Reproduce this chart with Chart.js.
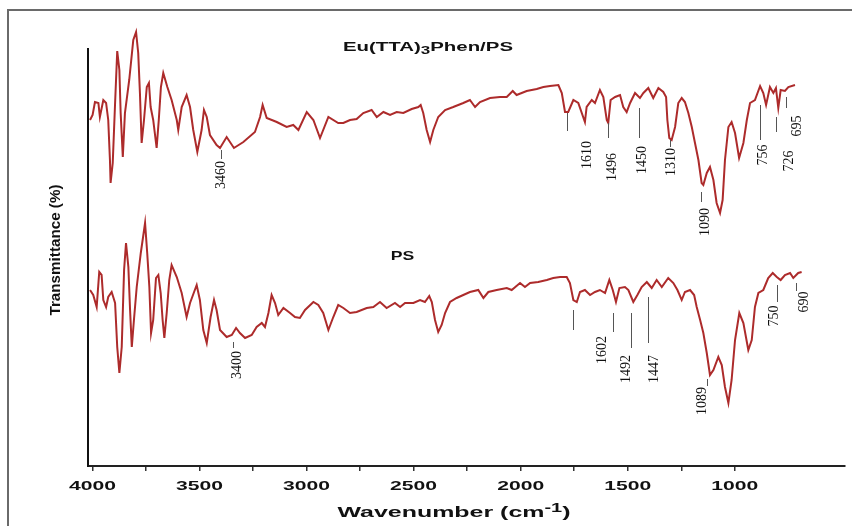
<!DOCTYPE html>
<html>
<head>
<meta charset="utf-8">
<script src="https://cdn.jsdelivr.net/npm/chart.js@4.4.1/dist/chart.umd.min.js"></script>
<style>
    html, body { margin: 0; padding: 0; background: #fff; }
    #wrap { position: relative; width: 852px; height: 526px; overflow: hidden; }
    #frame { position: absolute; left: 7px; top: 9px; width: 900px; height: 600px;
             border-left: 2px solid #6a6a6a; border-top: 2px solid #6a6a6a; }
    #ftir { position: absolute; left: 0; top: 0; }
</style>
</head>
<body>
<div id="wrap">
    <div id="frame"></div>
    <canvas id="ftir" width="852" height="526"></canvas>
</div>
<script>
// Eu(TTA)3Phen/PS spectrum: wavenumber (cm-1) and transmittance (arbitrary units, offset curve)
const euWave = [4011, 3999, 3988, 3972, 3965, 3949, 3936, 3926, 3918, 3915,
    3905, 3894, 3884, 3874, 3868, 3858, 3848, 3828, 3809, 3796,
    3786, 3778, 3770, 3759, 3746, 3736, 3728, 3716, 3700, 3690,
    3680, 3669, 3650, 3630, 3606, 3599, 3583, 3560, 3544, 3529,
    3510, 3490, 3479, 3466, 3451, 3420, 3404, 3373, 3339, 3295,
    3241, 3217, 3205, 3186, 3139, 3093, 3062, 3038, 2999, 2968,
    2937, 2898, 2852, 2828, 2797, 2766, 2735, 2696, 2672, 2641,
    2610, 2579, 2548, 2509, 2478, 2467, 2455, 2439, 2423, 2408,
    2385, 2353, 2315, 2268, 2237, 2213, 2190, 2143, 2097, 2065,
    2037, 2019, 1972, 1925, 1894, 1863, 1824, 1808, 1793, 1778,
    1754, 1731, 1700, 1692, 1668, 1653, 1630, 1614, 1598, 1591,
    1580, 1559, 1536, 1521, 1505, 1489, 1466, 1443, 1427, 1404,
    1381, 1357, 1334, 1321, 1315, 1306, 1295, 1279, 1264, 1248,
    1233, 1217, 1201, 1186, 1170, 1155, 1147, 1131, 1116, 1100,
    1085, 1069, 1057, 1046, 1030, 1015, 999, 980, 960, 944,
    929, 906, 882, 867, 854, 836, 820, 808, 797, 786,
    766, 750, 719];
const euTrans = [343, 348, 361, 360, 346, 363, 360, 343, 303, 280,
    300, 360, 412, 393, 350, 306, 350, 383, 423, 431,
    410, 370, 320, 343, 376, 380, 356, 343, 315, 343,
    376, 390, 376, 363, 343, 333, 356, 368, 356, 333,
    311, 333, 353, 346, 328, 318, 315, 326, 315, 321,
    331, 346, 358, 345, 341, 336, 338, 333, 351, 343,
    325, 346, 340, 340, 343, 344, 350, 353, 346, 351,
    348, 351, 350, 354, 356, 358, 350, 333, 321, 333,
    346, 353, 356, 360, 363, 356, 361, 365, 366, 366,
    372, 368, 372, 374, 376, 377, 378, 370, 351, 351,
    363, 360, 341, 356, 363, 360, 373, 366, 343, 340,
    363, 366, 368, 356, 351, 360, 370, 365, 370, 375,
    365, 375, 371, 366, 343, 325, 323, 336, 360, 365,
    361, 350, 336, 320, 303, 280, 278, 290, 296, 283,
    260, 250, 263, 303, 336, 341, 330, 305, 320, 343,
    360, 363, 377, 370, 358, 376, 370, 375, 355, 373,
    372, 376, 378];

// PS spectrum
const psWave = [4011, 3996, 3980, 3968, 3957, 3949, 3936, 3926, 3910, 3894,
    3884, 3874, 3863, 3852, 3843, 3832, 3824, 3816, 3806, 3793,
    3774, 3754, 3744, 3734, 3726, 3716, 3703, 3692, 3681, 3672,
    3664, 3653, 3641, 3630, 3606, 3583, 3560, 3544, 3513, 3498,
    3482, 3466, 3448, 3432, 3420, 3404, 3373, 3349, 3329, 3311,
    3287, 3256, 3233, 3209, 3194, 3178, 3163, 3147, 3132, 3108,
    3077, 3054, 3031, 3007, 2968, 2945, 2922, 2898, 2875, 2852,
    2828, 2797, 2766, 2719, 2688, 2657, 2626, 2587, 2563, 2540,
    2501, 2470, 2447, 2427, 2415, 2400, 2385, 2369, 2353, 2330,
    2299, 2268, 2237, 2198, 2174, 2151, 2112, 2065, 2042, 2003,
    1980, 1956, 1918, 1878, 1848, 1816, 1785, 1770, 1754, 1738,
    1723, 1700, 1676, 1653, 1630, 1606, 1586, 1570, 1555, 1539,
    1513, 1497, 1474, 1455, 1435, 1411, 1388, 1365, 1341, 1311,
    1287, 1268, 1248, 1233, 1209, 1190, 1178, 1162, 1147, 1131,
    1116, 1100, 1077, 1061, 1046, 1030, 1015, 999, 979, 960,
    937, 921, 906, 890, 867, 844, 823, 804, 786, 766,
    742, 727, 704, 688];
const psTrans = [173, 168, 156, 191, 188, 163, 156, 166, 171, 160,
    116, 90, 116, 193, 220, 196, 153, 116, 143, 176,
    210, 240, 210, 176, 130, 143, 185, 188, 170, 143,
    125, 150, 183, 198, 186, 170, 146, 160, 178, 163,
    133, 120, 146, 163, 153, 133, 126, 128, 135, 130,
    125, 128, 136, 140, 136, 150, 168, 160, 148, 155,
    150, 146, 145, 153, 161, 158, 150, 133, 146, 158,
    155, 150, 151, 155, 156, 161, 155, 160, 156, 160,
    160, 163, 161, 167, 161, 143, 131, 138, 150, 161,
    165, 168, 171, 173, 165, 171, 173, 175, 173, 180,
    176, 180, 181, 183, 185, 186, 186, 180, 163, 161,
    171, 173, 168, 171, 173, 170, 183, 173, 161, 175,
    176, 173, 161, 168, 176, 181, 175, 183, 176, 185,
    180, 173, 163, 171, 173, 168, 156, 143, 130, 110,
    88, 93, 106, 98, 76, 60, 83, 123, 150, 140,
    113, 123, 156, 170, 173, 185, 190, 186, 183, 188,
    190, 185, 190, 191];

const xTicks = [4000, 3750, 3500, 3250, 3000, 2750, 2500, 2250, 2000, 1750, 1500, 1250, 1000];
const xLabels = [4000, 3500, 3000, 2500, 2000, 1500, 1000];

// peak labels (text at x/y, marker line at lx from ly[0] to ly[1], data units)
const peakNotes = [
    { t: '3460', x: 3404, y: 288, lx: 3399, ly: [313, 304] },
    { t: '1610', x: 1692, y: 308, lx: 1785, ly: [350, 332] },
    { t: '1496', x: 1575, y: 296, lx: 1592, ly: [340, 325] },
    { t: '1450', x: 1435, y: 303, lx: 1447, ly: [355, 325] },
    { t: '1310', x: 1303, y: 301, lx: 1305, ly: [323, 316] },
    { t: '1090', x: 1144, y: 241, lx: 1158, ly: [271, 261] },
    { t: '756', x: 870, y: 308, lx: 882, ly: [358, 323] },
    { t: '726', x: 752, y: 302, lx: 809, ly: [346, 331] },
    { t: '695', x: 711, y: 337, lx: 762, ly: [366, 355] },
    { t: '3400', x: 3326, y: 98, lx: 3343, ly: [121, 115] },
    { t: '1602', x: 1622, y: 113, lx: 1569, ly: [150, 131] },
    { t: '1492', x: 1513, y: 94, lx: 1486, ly: [150, 115] },
    { t: '1447', x: 1381, y: 94, lx: 1404, ly: [166, 120] },
    { t: '1089', x: 1155, y: 62, lx: 1130, ly: [84, 77] },
    { t: '750', x: 820, y: 147, lx: 802, ly: [178, 161] },
    { t: '690', x: 680, y: 161, lx: 714, ly: [180, 172] },
    { t: '', x: 1754, y: 0, lx: 1754, ly: [153, 133] }
];

const SANS = '"Liberation Sans", Arial, sans-serif';

// draws a row of text pieces stretched to a given width (the figure's lettering is wide)
function wideText(ctx, runs, cx, baseY, width) {
    let total = 0;
    runs.forEach(r => {
        ctx.font = r.font;
        r.w = ctx.measureText(r.text).width;
        total += r.w;
    });
    const sx = width ? width / total : 1;
    ctx.save();
    ctx.translate(cx - total * sx / 2, baseY);
    ctx.scale(sx, 1);
    ctx.textAlign = 'left';
    ctx.textBaseline = 'alphabetic';
    let x = 0;
    runs.forEach(r => {
        ctx.font = r.font;
        ctx.fillText(r.text, x, r.dy || 0);
        x += r.w;
    });
    ctx.restore();
}

const textPlugin = {
    id: 'ftirText',
    afterDraw(chart) {
        const ctx = chart.ctx;
        const xs = chart.scales.x, ys = chart.scales.y;
        ctx.save();
        ctx.fillStyle = '#111';

        // tick labels
        xLabels.forEach(v => {
            wideText(ctx, [{ text: String(v), font: 'bold 12.5px ' + SANS }],
                xs.getPixelForValue(v), 490, 47);
        });

        // axis titles
        wideText(ctx, [
            { text: 'Wavenumber (cm', font: 'bold 15px ' + SANS },
            { text: '-1', font: 'bold 12px ' + SANS, dy: -5 },
            { text: ')', font: 'bold 15px ' + SANS }
        ], 454, 517, 233);

        ctx.save();
        ctx.translate(55, 250);
        ctx.rotate(-Math.PI / 2);
        wideText(ctx, [{ text: 'Transmittance (%)', font: 'bold 14px ' + SANS }], 0, 5, 131);
        ctx.restore();

        // curve names
        wideText(ctx, [
            { text: 'Eu(TTA)', font: 'bold 12px ' + SANS },
            { text: '3', font: 'bold 10px ' + SANS, dy: 3 },
            { text: 'Phen/PS', font: 'bold 12px ' + SANS }
        ], 428, 50.5, 170);
        wideText(ctx, [{ text: 'PS', font: 'bold 12.5px ' + SANS }], 402.5, 260, 23.5);

        // peak markers and rotated labels
        ctx.strokeStyle = '#555';
        ctx.lineWidth = 1;
        peakNotes.forEach(p => {
            const lx = Math.round(xs.getPixelForValue(p.lx)) + 0.5;
            ctx.beginPath();
            ctx.moveTo(lx, ys.getPixelForValue(p.ly[0]));
            ctx.lineTo(lx, ys.getPixelForValue(p.ly[1]));
            ctx.stroke();
            if (!p.t) return;
            ctx.save();
            ctx.translate(xs.getPixelForValue(p.x), ys.getPixelForValue(p.y));
            ctx.rotate(-Math.PI / 2);
            ctx.font = '14px "Liberation Serif", "Times New Roman", serif';
            ctx.textAlign = 'center';
            ctx.textBaseline = 'middle';
            ctx.fillText(p.t, 0, 1);
            ctx.restore();
        });
        ctx.restore();
    }
};

const lineColor = '#ad2b2b';

new Chart(document.getElementById('ftir'), {
    type: 'line',
    data: {
        datasets: [
            {
                label: 'Eu(TTA)3Phen/PS',
                data: euWave.map((w, i) => ({ x: w, y: euTrans[i] })),
                borderColor: lineColor,
                borderWidth: 2,
                pointRadius: 0,
                tension: 0,
                clip: false
            },
            {
                label: 'PS',
                data: psWave.map((w, i) => ({ x: w, y: psTrans[i] })),
                borderColor: lineColor,
                borderWidth: 2,
                pointRadius: 0,
                tension: 0,
                clip: false
            }
        ]
    },
    options: {
        responsive: false,
        animation: false,
        layout: { padding: { left: 88, top: 49, right: 7, bottom: 55 } },
        plugins: {
            legend: { display: false },
            tooltip: { enabled: false }
        },
        scales: {
            x: {
                type: 'linear',
                reverse: true,
                min: 485.5,
                max: 4020.5,
                afterBuildTicks: s => { s.ticks = xTicks.map(v => ({ value: v })); },
                ticks: { display: false },
                grid: { drawOnChartArea: false, drawTicks: true, tickLength: 5, color: '#333', lineWidth: 1.5 },
                border: { color: '#222', width: 2 }
            },
            y: {
                type: 'linear',
                min: -3,
                max: 414,
                ticks: { display: false },
                grid: { drawOnChartArea: false, drawTicks: false },
                border: { color: '#111', width: 2 }
            }
        }
    },
    plugins: [textPlugin]
});
</script>
</body>
</html>
